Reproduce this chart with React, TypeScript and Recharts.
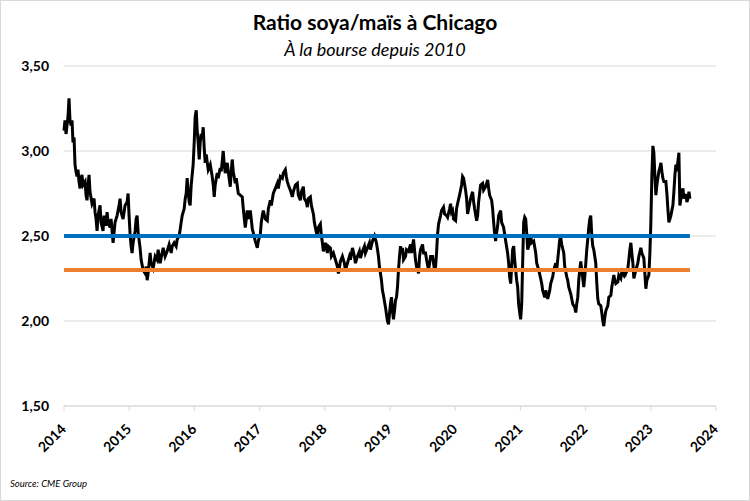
import React from 'react';
import { LineChart, Line, XAxis, YAxis, CartesianGrid } from 'recharts';

const titre = 'Ratio soya/maïs à Chicago';
const sousTitre = 'À la bourse depuis 2010';
const source = 'Source: CME Group';

const annees = [2014, 2015, 2016, 2017, 2018, 2019, 2020, 2021, 2022, 2023, 2024];
const ticksRatio = [1.5, 2, 2.5, 3, 3.5];
const seuilHaut = 2.5;
const seuilBas = 2.3;

const obs2014: [number, number][] = [
  [2014.0, 3.12], [2014.015, 3.18], [2014.031, 3.1], [2014.046, 3.15], [2014.061, 3.2], [2014.077, 3.31],
  [2014.092, 3.18], [2014.108, 3.15], [2014.123, 3.18], [2014.138, 3.05], [2014.154, 3.08], [2014.169, 2.92],
  [2014.184, 2.88], [2014.2, 2.85], [2014.215, 2.89], [2014.23, 2.82], [2014.246, 2.78], [2014.261, 2.84],
  [2014.276, 2.86], [2014.292, 2.8], [2014.323, 2.82], [2014.338, 2.74], [2014.353, 2.71], [2014.369, 2.8],
  [2014.384, 2.86], [2014.399, 2.76], [2014.43, 2.69], [2014.461, 2.72], [2014.476, 2.64], [2014.492, 2.6],
  [2014.507, 2.53], [2014.522, 2.62], [2014.553, 2.68], [2014.568, 2.58], [2014.599, 2.53], [2014.614, 2.62],
  [2014.645, 2.56], [2014.661, 2.64], [2014.676, 2.58], [2014.707, 2.55], [2014.722, 2.6], [2014.753, 2.46],
  [2014.768, 2.52], [2014.783, 2.58], [2014.814, 2.62], [2014.845, 2.68], [2014.86, 2.72], [2014.876, 2.64],
  [2014.906, 2.6], [2014.937, 2.68], [2014.968, 2.7], [2014.983, 2.75], [2014.998, 2.62],
];
const obs2015: [number, number][] = [
  [2015.014, 2.51], [2015.029, 2.44], [2015.044, 2.4], [2015.06, 2.46], [2015.091, 2.53], [2015.106, 2.6],
  [2015.121, 2.62], [2015.137, 2.52], [2015.167, 2.43], [2015.183, 2.36], [2015.198, 2.33], [2015.213, 2.3],
  [2015.244, 2.28], [2015.26, 2.32], [2015.275, 2.24], [2015.29, 2.28], [2015.321, 2.4], [2015.336, 2.34],
  [2015.367, 2.31], [2015.398, 2.38], [2015.428, 2.36], [2015.444, 2.42], [2015.475, 2.34], [2015.505, 2.4],
  [2015.521, 2.43], [2015.551, 2.38], [2015.582, 2.41], [2015.613, 2.45], [2015.644, 2.4], [2015.659, 2.44],
  [2015.69, 2.46], [2015.72, 2.44], [2015.736, 2.48], [2015.766, 2.5], [2015.782, 2.54], [2015.797, 2.58],
  [2015.813, 2.62], [2015.843, 2.66], [2015.859, 2.72], [2015.874, 2.75], [2015.889, 2.84], [2015.905, 2.76],
  [2015.92, 2.7], [2015.935, 2.68], [2015.951, 2.8], [2015.966, 2.86], [2015.981, 2.92], [2015.997, 3.05],
];
const obs2016: [number, number][] = [
  [2016.012, 3.2], [2016.028, 3.24], [2016.043, 3.12], [2016.058, 3.05], [2016.074, 2.95], [2016.089, 3.05],
  [2016.104, 3.1], [2016.12, 3.08], [2016.135, 3.14], [2016.15, 3.02], [2016.166, 2.93], [2016.181, 2.98],
  [2016.212, 2.89], [2016.243, 2.92], [2016.273, 2.85], [2016.289, 2.8], [2016.304, 2.73], [2016.319, 2.8],
  [2016.35, 2.87], [2016.365, 2.84], [2016.396, 2.9], [2016.412, 2.88], [2016.442, 3.0], [2016.458, 2.92],
  [2016.473, 2.87], [2016.504, 2.93], [2016.519, 2.88], [2016.55, 2.79], [2016.565, 2.88], [2016.58, 2.95],
  [2016.596, 2.88], [2016.627, 2.81], [2016.642, 2.84], [2016.673, 2.75], [2016.703, 2.74], [2016.734, 2.73],
  [2016.75, 2.66], [2016.78, 2.55], [2016.796, 2.6], [2016.811, 2.65], [2016.826, 2.6], [2016.857, 2.65],
  [2016.872, 2.6], [2016.888, 2.54], [2016.903, 2.52], [2016.934, 2.47], [2016.965, 2.43], [2016.98, 2.47],
];
const obs2017: [number, number][] = [
  [2017.011, 2.51], [2017.026, 2.58], [2017.041, 2.62], [2017.057, 2.65], [2017.087, 2.6], [2017.118, 2.59],
  [2017.134, 2.66], [2017.164, 2.71], [2017.18, 2.68], [2017.21, 2.75], [2017.241, 2.78], [2017.272, 2.81],
  [2017.287, 2.78], [2017.318, 2.85], [2017.349, 2.84], [2017.364, 2.87], [2017.395, 2.89], [2017.41, 2.85],
  [2017.425, 2.82], [2017.441, 2.8], [2017.471, 2.77], [2017.502, 2.73], [2017.517, 2.76], [2017.548, 2.8],
  [2017.579, 2.81], [2017.594, 2.74], [2017.625, 2.71], [2017.64, 2.76], [2017.671, 2.79], [2017.686, 2.72],
  [2017.717, 2.7], [2017.732, 2.67], [2017.748, 2.72], [2017.779, 2.73], [2017.794, 2.68], [2017.825, 2.63],
  [2017.84, 2.58], [2017.871, 2.52], [2017.886, 2.5], [2017.901, 2.55], [2017.932, 2.57], [2017.948, 2.5],
  [2017.963, 2.46], [2017.978, 2.41],
];
const obs2018: [number, number][] = [
  [2018.009, 2.46], [2018.04, 2.4], [2018.055, 2.44], [2018.086, 2.43], [2018.101, 2.38], [2018.132, 2.4],
  [2018.163, 2.36], [2018.193, 2.32], [2018.209, 2.28], [2018.239, 2.35], [2018.27, 2.38], [2018.301, 2.34],
  [2018.316, 2.3], [2018.347, 2.34], [2018.378, 2.38], [2018.393, 2.36], [2018.424, 2.43], [2018.454, 2.38],
  [2018.47, 2.34], [2018.5, 2.38], [2018.531, 2.41], [2018.547, 2.37], [2018.577, 2.41], [2018.608, 2.44],
  [2018.623, 2.4], [2018.654, 2.43], [2018.685, 2.46], [2018.7, 2.42], [2018.731, 2.47], [2018.762, 2.5],
  [2018.777, 2.48], [2018.792, 2.46], [2018.808, 2.42], [2018.823, 2.38], [2018.838, 2.32], [2018.854, 2.28],
  [2018.869, 2.24], [2018.884, 2.18], [2018.9, 2.15], [2018.931, 2.08], [2018.946, 2.04], [2018.961, 2.0],
  [2018.977, 1.98], [2018.992, 2.04],
];
const obs2019: [number, number][] = [
  [2019.007, 2.1], [2019.023, 2.14], [2019.038, 2.06], [2019.053, 2.01], [2019.069, 2.06], [2019.084, 2.12],
  [2019.1, 2.14], [2019.115, 2.2], [2019.13, 2.3], [2019.146, 2.38], [2019.161, 2.44], [2019.176, 2.4],
  [2019.192, 2.43], [2019.207, 2.36], [2019.238, 2.38], [2019.253, 2.42], [2019.284, 2.41], [2019.315, 2.45],
  [2019.33, 2.4], [2019.361, 2.48], [2019.376, 2.42], [2019.391, 2.36], [2019.407, 2.32], [2019.438, 2.28],
  [2019.453, 2.38], [2019.468, 2.42], [2019.499, 2.45], [2019.515, 2.4], [2019.545, 2.4], [2019.561, 2.36],
  [2019.576, 2.33], [2019.591, 2.3], [2019.607, 2.34], [2019.622, 2.38], [2019.653, 2.38], [2019.668, 2.34],
  [2019.683, 2.3], [2019.699, 2.32], [2019.714, 2.4], [2019.729, 2.51], [2019.745, 2.57], [2019.775, 2.62],
  [2019.791, 2.65], [2019.821, 2.67], [2019.837, 2.63], [2019.868, 2.62], [2019.883, 2.61], [2019.914, 2.66],
  [2019.929, 2.69], [2019.944, 2.64], [2019.96, 2.65], [2019.975, 2.6],
];
const obs2020: [number, number][] = [
  [2020.006, 2.59], [2020.021, 2.66], [2020.036, 2.69], [2020.067, 2.74], [2020.098, 2.8], [2020.113, 2.85],
  [2020.129, 2.84], [2020.159, 2.77], [2020.175, 2.72], [2020.19, 2.63], [2020.206, 2.66], [2020.236, 2.72],
  [2020.267, 2.76], [2020.283, 2.7], [2020.298, 2.66], [2020.329, 2.59], [2020.344, 2.62], [2020.359, 2.7],
  [2020.39, 2.8], [2020.421, 2.81], [2020.436, 2.77], [2020.467, 2.79], [2020.498, 2.83], [2020.513, 2.78],
  [2020.528, 2.74], [2020.559, 2.71], [2020.574, 2.66], [2020.59, 2.58], [2020.605, 2.51], [2020.62, 2.47],
  [2020.636, 2.52], [2020.651, 2.56], [2020.666, 2.62], [2020.697, 2.65], [2020.712, 2.58], [2020.743, 2.55],
  [2020.758, 2.51], [2020.774, 2.47], [2020.804, 2.4], [2020.82, 2.34], [2020.835, 2.26], [2020.851, 2.22],
  [2020.866, 2.32], [2020.881, 2.42], [2020.897, 2.44], [2020.912, 2.36], [2020.927, 2.3], [2020.943, 2.24],
  [2020.958, 2.2], [2020.973, 2.1], [2020.989, 2.05],
];
const obs2021: [number, number][] = [
  [2021.004, 2.01], [2021.02, 2.1], [2021.035, 2.35], [2021.05, 2.58], [2021.066, 2.61], [2021.081, 2.6],
  [2021.096, 2.52], [2021.112, 2.42], [2021.127, 2.44], [2021.142, 2.48], [2021.158, 2.5], [2021.173, 2.46],
  [2021.204, 2.47], [2021.235, 2.4], [2021.25, 2.34], [2021.281, 2.3], [2021.311, 2.25], [2021.327, 2.22],
  [2021.342, 2.18], [2021.373, 2.14], [2021.388, 2.18], [2021.419, 2.13], [2021.45, 2.18], [2021.465, 2.22],
  [2021.496, 2.26], [2021.511, 2.3], [2021.542, 2.34], [2021.557, 2.3], [2021.572, 2.36], [2021.588, 2.42],
  [2021.603, 2.48], [2021.619, 2.49], [2021.634, 2.45], [2021.665, 2.4], [2021.68, 2.32], [2021.711, 2.26],
  [2021.726, 2.24], [2021.741, 2.2], [2021.772, 2.16], [2021.803, 2.1], [2021.834, 2.08], [2021.849, 2.05],
  [2021.864, 2.1], [2021.88, 2.14], [2021.895, 2.24], [2021.91, 2.3], [2021.926, 2.35], [2021.941, 2.3],
  [2021.972, 2.2], [2021.987, 2.26],
];
const obs2022: [number, number][] = [
  [2022.003, 2.34], [2022.018, 2.42], [2022.033, 2.48], [2022.049, 2.55], [2022.064, 2.6], [2022.079, 2.62],
  [2022.095, 2.5], [2022.11, 2.44], [2022.125, 2.42], [2022.141, 2.38], [2022.156, 2.34], [2022.172, 2.22],
  [2022.187, 2.13], [2022.202, 2.1], [2022.233, 2.09], [2022.248, 2.05], [2022.264, 2.0], [2022.279, 1.97],
  [2022.294, 2.02], [2022.31, 2.06], [2022.341, 2.09], [2022.356, 2.14], [2022.387, 2.15], [2022.402, 2.2],
  [2022.433, 2.27], [2022.448, 2.24], [2022.463, 2.22], [2022.494, 2.23], [2022.509, 2.27], [2022.54, 2.25],
  [2022.556, 2.29], [2022.586, 2.27], [2022.602, 2.3], [2022.617, 2.28], [2022.648, 2.31], [2022.663, 2.36],
  [2022.679, 2.42], [2022.694, 2.46], [2022.709, 2.4], [2022.725, 2.34], [2022.74, 2.25], [2022.771, 2.3],
  [2022.801, 2.34], [2022.817, 2.38], [2022.847, 2.43], [2022.863, 2.4], [2022.893, 2.37], [2022.909, 2.28],
  [2022.924, 2.19], [2022.94, 2.24], [2022.97, 2.27], [2022.986, 2.4],
];
const obs2023: [number, number][] = [
  [2023.001, 2.58], [2023.016, 2.85], [2023.032, 3.03], [2023.047, 2.99], [2023.062, 2.86], [2023.078, 2.74],
  [2023.093, 2.8], [2023.108, 2.84], [2023.124, 2.88], [2023.139, 2.9], [2023.155, 2.93], [2023.17, 2.88],
  [2023.185, 2.84], [2023.201, 2.82], [2023.231, 2.82], [2023.247, 2.75], [2023.262, 2.66], [2023.277, 2.58],
  [2023.293, 2.6], [2023.308, 2.62], [2023.339, 2.68], [2023.354, 2.76], [2023.37, 2.86], [2023.385, 2.92],
  [2023.4, 2.88], [2023.416, 2.94], [2023.431, 2.99], [2023.446, 2.68], [2023.462, 2.72], [2023.477, 2.76],
  [2023.493, 2.78], [2023.508, 2.72], [2023.523, 2.74], [2023.539, 2.74], [2023.554, 2.7], [2023.569, 2.72],
  [2023.585, 2.76], [2023.6, 2.72],
];

const observations = [
  ...obs2014, ...obs2015, ...obs2016, ...obs2017, ...obs2018,
  ...obs2019, ...obs2020, ...obs2021, ...obs2022, ...obs2023,
];

const data = observations.map(([t, v]) => ({ t, ratio: v, haut: seuilHaut, bas: seuilBas }));

const FONT = "Lato, 'Open Sans', 'DejaVu Sans', sans-serif";

const XTick = (props: any) => {
  const { x, y, payload } = props;
  const ax = x + 3;
  const ay = y + 17;
  return (
    <text
      x={ax}
      y={ay}
      transform={`rotate(-45, ${ax}, ${ay})`}
      textAnchor="end"
      fontFamily={FONT}
      fontWeight="bold"
      fontSize={14}
      fill="#000"
    >
      {payload.value}
    </text>
  );
};

const fmt = (v: number) => v.toFixed(2).replace('.', ',');

export default function App() {
  return (
    <div style={{ position: 'absolute', left: 0, top: 0, width: 750, height: 501, background: '#fff' }}>
      <div
        style={{
          position: 'absolute', left: 0, top: 10, width: 750, textAlign: 'center',
          fontFamily: FONT, fontWeight: 'bold', fontSize: 21, lineHeight: '24px', color: '#000',
        }}
      >
        {titre}
      </div>
      <div
        style={{
          position: 'absolute', left: 0, top: 38, width: 750, textAlign: 'center',
          fontFamily: FONT, fontStyle: 'italic', fontSize: 18, lineHeight: '22px', color: '#000',
        }}
      >
        {sousTitre}
      </div>
      <div style={{ position: 'absolute', left: 0, top: 0 }}>
        <LineChart
          width={750}
          height={501}
          data={data}
          margin={{ top: 66, right: 34, bottom: 35, left: 0 }}
        >
          <CartesianGrid horizontal vertical={false} stroke="#d9d9d9" strokeWidth={1} />
          <XAxis
            dataKey="t"
            type="number"
            domain={[2014, 2024]}
            ticks={annees}
            interval={0}
            height={60}
            tick={<XTick />}
            tickSize={5}
            tickMargin={2}
            axisLine={{ stroke: '#d9d9d9' }}
            tickLine={{ stroke: '#d9d9d9' }}
          />
          <YAxis
            type="number"
            domain={[1.5, 3.5]}
            ticks={ticksRatio}
            interval={0}
            width={64}
            axisLine={false}
            tickLine={false}
            tickMargin={9}
            tickFormatter={fmt}
            tick={{ fontFamily: FONT, fontWeight: 'bold', fontSize: 14, fill: '#000' }}
          />
          <Line
            type="linear"
            dataKey="ratio"
            stroke="#000"
            strokeWidth={3}
            strokeLinejoin="miter"
            dot={false}
            isAnimationActive={false}
          />
          <Line
            type="linear"
            dataKey="haut"
            stroke="#0070C0"
            strokeWidth={4}
            dot={false}
            isAnimationActive={false}
          />
          <Line
            type="linear"
            dataKey="bas"
            stroke="#ED7D31"
            strokeWidth={4}
            dot={false}
            isAnimationActive={false}
          />
        </LineChart>
      </div>
      <div
        style={{
          position: 'absolute', left: 10, top: 478, fontFamily: FONT, fontStyle: 'italic',
          fontSize: 9.5, color: '#000',
        }}
      >
        {source}
      </div>
      <div
        style={{
          position: 'absolute', left: 0, top: 0, width: 750, height: 501, boxSizing: 'border-box',
          border: '1px solid #d9d9d9', pointerEvents: 'none',
        }}
      />
    </div>
  );
}
